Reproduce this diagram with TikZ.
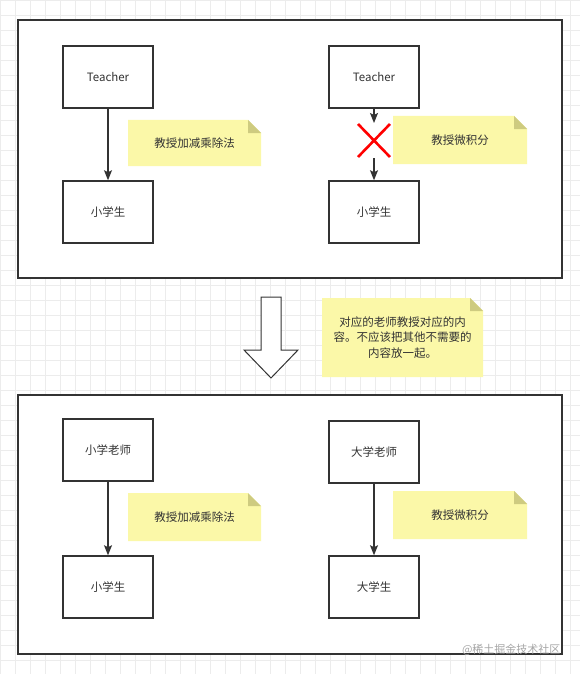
\documentclass[tikz,border=0pt]{standalone}
\usepackage{fontspec}
\newfontfamily\cjk{Noto Sans CJK SC}
\usetikzlibrary{arrows.meta}
\definecolor{ink}{RGB}{51,51,51}
\definecolor{notefill}{RGB}{251,248,168}
\definecolor{notefold}{RGB}{206,203,128}
\definecolor{gridcol}{RGB}{236,236,236}
\tikzset{
  box/.style={draw=ink,line width=1.5pt,fill=white,minimum width=90pt,minimum height=62pt,inner sep=0pt,font=\cjk\fontsize{11.5}{14}\selectfont,text=ink},
  frame/.style={draw=ink,line width=1.5pt,fill=white},
  conn/.style={draw=ink,line width=1.2pt,-{Stealth[length=10pt,width=8pt,inset=2pt]}},
  note/.style={minimum width=#1,inner sep=0pt,align=center,font=\cjk\fontsize{11.5}{15.5}\selectfont,text=ink,
    path picture={
      \fill[notefill] (path picture bounding box.south west) -- (path picture bounding box.north west)
        -- ([xshift=-13pt]path picture bounding box.north east) -- ([yshift=-13pt]path picture bounding box.north east)
        -- (path picture bounding box.south east) -- cycle;
      \fill[notefold] ([xshift=-13pt]path picture bounding box.north east) -- ([xshift=-13pt,yshift=-13pt]path picture bounding box.north east)
        -- ([yshift=-13pt]path picture bounding box.north east) -- cycle;
    }},
}
\begin{document}
\begin{tikzpicture}[x=1pt,y=-1pt]
\useasboundingbox (0,0) rectangle (580,674);
\fill[white] (0,0) rectangle (580,674);
\draw[gridcol,line width=0.6pt] (-8,-11) grid[step=15pt] (580,674);
% frames
\draw[frame] (18,20) rectangle (562,278);
\draw[frame] (18,395) rectangle (562,654);
% top left
\node[box] (t1) at (108,77) {Teacher};
\node[box] (s1) at (108,212) {小学生};
\draw[conn] (t1) -- (s1);
\node[note=133pt,minimum height=46pt] (n1) at (194.5,143) {教授加减乘除法};
% top right
\node[box] (t2) at (374,77) {Teacher};
\node[box] (s2) at (374,212) {小学生};
\coordinate (g1) at (374,123);
\coordinate (g2) at (374,158);
\draw[conn] (t2) -- (g1);
\draw[conn] (g2) -- (s2);
\draw[red,line width=2.6pt] (358,124) -- (390,157) (390,124) -- (358,157);
\node[note=134pt,minimum height=48pt] (n2) at (460,140) {教授微积分};
% big arrow
\draw[draw=ink,line width=1pt,fill=white,line join=miter] (261,297) -- (281,297) -- (281,350) -- (298,350) -- (271,378) -- (244,350) -- (261,350) -- cycle;
\node[note=161pt,minimum height=79pt] (n3) at (402.5,337.5) {对应的老师教授对应的内\\容。不应该把其他不需要的\\内容放一起。};
% bottom left
\node[box] (t3) at (108,450) {小学老师};
\node[box] (s3) at (108,587) {小学生};
\draw[conn] (t3) -- (s3);
\node[note=133pt,minimum height=48pt] (n4) at (194.5,517) {教授加减乘除法};
% bottom right
\node[box] (t4) at (374,452) {大学老师};
\node[box] (s4) at (374,587) {大学生};
\draw[conn] (t4) -- (s4);
\node[note=134pt,minimum height=48pt] (n5) at (460,515) {教授微积分};
% watermark
\node[font=\cjk\fontsize{11}{13}\selectfont,text=gray!70,anchor=east] (wm) at (564,650) {@稀土掘金技术社区};
\end{tikzpicture}
\end{document}
